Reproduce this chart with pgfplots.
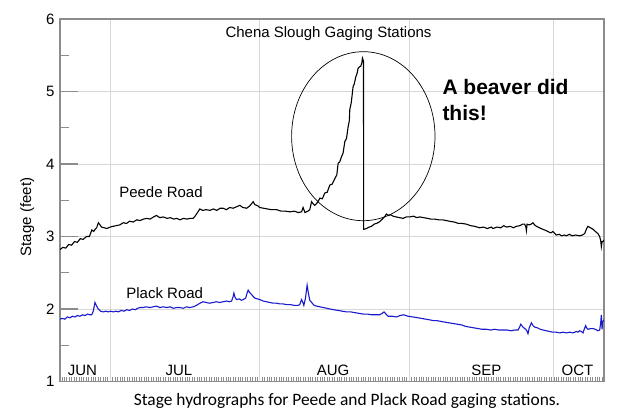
\documentclass[border=0pt]{standalone}
\usepackage{pgfplots}
\pgfplotsset{compat=1.18}
\usepackage{fontspec}
\setmainfont{Liberation Sans}
\newfontfamily\calibri{Carlito}
\definecolor{plackblue}{RGB}{25,25,205}
\definecolor{gridgray}{RGB}{215,215,215}
\definecolor{framegray}{RGB}{140,140,140}

\pgfplotstableread{
d v
19.6 2.82
20.2 2.85
20.8 2.84
21.4 2.89
22.0 2.88
22.6 2.93
23.2 2.92
23.8 2.97
24.4 2.96
25.1 3.00
25.7 3.00
26.2 3.09
26.6 3.07
26.9 3.10
27.2 3.12
27.55 3.19
27.9 3.16
28.2 3.13
28.8 3.12
29.3 3.11
30.0 3.13
30.6 3.14
31.3 3.15
32.0 3.16
32.7 3.19
33.4 3.18
34.0 3.21
34.8 3.20
35.5 3.23
36.2 3.22
36.9 3.24
37.6 3.25
38.3 3.24
39.0 3.27
39.6 3.29
40.3 3.26
41.0 3.27
41.8 3.25
42.5 3.26
43.2 3.24
43.8 3.25
44.5 3.23
45.2 3.25
45.9 3.24
46.6 3.25
47.2 3.25
47.6 3.28
48.0 3.32
48.6 3.38
49.2 3.36
49.9 3.37
50.7 3.36
51.4 3.38
52.1 3.36
52.8 3.39
53.4 3.39
54.1 3.37
54.8 3.40
55.5 3.39
56.2 3.41
56.9 3.43
57.5 3.40
58.3 3.39
58.9 3.42
59.3 3.45
59.65 3.48
60.0 3.44
60.7 3.42
61.0 3.40
61.8 3.39
62.6 3.38
63.4 3.37
64.5 3.37
65.4 3.35
66.3 3.35
67.3 3.34
68.2 3.35
69.0 3.33
69.7 3.34
70.0 3.40
70.4 3.33
71.0 3.35
71.4 3.37
71.76 3.48
72.1 3.45
72.44 3.43
73.0 3.47
73.5 3.53
74.0 3.52
74.5 3.60
75.0 3.61
75.55 3.71
76.0 3.72
76.6 3.80
77.0 3.85
77.27 4.01
77.6 4.03
77.97 4.10
78.3 4.15
78.66 4.31
79.0 4.35
79.34 4.51
79.6 4.60
79.69 4.75
80.0 4.85
80.38 5.07
80.6 5.10
80.93 5.20
81.2 5.25
81.41 5.32
81.7 5.34
81.97 5.35
82.2 5.40
82.32 5.46
82.53 5.42
82.56 3.10
82.66 3.10
83.15 3.11
83.7 3.13
84.2 3.14
84.7 3.17
85.22 3.18
85.8 3.20
86.3 3.23
86.59 3.25
87.0 3.28
87.29 3.31
87.7 3.29
88.2 3.30
88.66 3.28
89.3 3.27
90.0 3.26
90.73 3.25
91.4 3.27
92.12 3.27
92.9 3.28
93.6 3.26
94.19 3.27
95.0 3.26
95.8 3.25
96.5 3.24
97.3 3.24
98.1 3.23
98.9 3.23
99.7 3.22
100.4 3.21
101.3 3.20
102.2 3.18
103.0 3.18
103.9 3.17
104.7 3.15
105.6 3.14
106.6 3.12
107.4 3.13
108.2 3.11
109.0 3.13
109.4 3.11
110.2 3.13
111.0 3.12
111.6 3.15
112.2 3.13
113.0 3.14
113.6 3.12
114.2 3.14
115.0 3.15
115.5 3.17
115.95 3.17
116.2 3.13
116.31 3.08
116.45 3.17
116.9 3.16
117.3 3.17
117.67 3.19
118.0 3.16
118.4 3.14
119.0 3.12
119.7 3.10
120.45 3.08
121.0 3.06
121.4 3.05
121.8 3.07
122.5 3.02
123.1 3.03
123.6 3.01
124.2 3.02
124.6 3.01
125.2 3.03
125.8 3.01
126.5 3.02
127.35 3.01
127.9 3.02
128.39 3.04
128.8 3.11
129.07 3.14
129.6 3.12
130.11 3.10
130.6 3.07
131.14 3.04
131.49 3.00
131.7 2.95
131.85 2.86
132.0 2.93
132.18 2.93
132.35 2.95
}\peede

\pgfplotstableread{
d v
19.6 1.86
20.1 1.87
20.6 1.86
21.1 1.89
21.67 1.88
22.2 1.90
22.7 1.89
23.2 1.91
23.74 1.90
24.3 1.92
24.8 1.91
25.3 1.93
25.82 1.92
26.17 1.92
26.5 1.97
26.85 2.09
27.2 2.04
27.54 2.00
28.0 1.97
28.57 1.96
29.1 1.97
29.6 1.96
30.1 1.97
30.64 1.96
31.2 1.97
31.7 1.96
32.3 1.98
32.9 1.97
33.42 1.99
34.0 1.98
34.6 2.00
35.2 1.99
35.7 2.01
36.18 2.02
36.8 2.02
37.5 2.03
38.2 2.02
38.93 2.03
39.6 2.04
40.3 2.02
41.0 2.03
41.71 2.02
42.4 2.03
43.1 2.01
43.8 2.02
44.46 2.02
45.2 2.01
45.8 2.03
46.5 2.02
47.22 2.03
47.9 2.05
48.61 2.08
49.29 2.10
49.9 2.09
50.6 2.08
51.37 2.09
52.0 2.10
52.7 2.09
53.44 2.10
54.1 2.11
54.7 2.10
55.18 2.11
55.5 2.17
55.66 2.22
55.9 2.16
56.21 2.13
56.8 2.14
57.2 2.12
57.58 2.13
58.1 2.15
58.4 2.22
58.62 2.26
58.9 2.23
59.32 2.20
59.7 2.17
60.01 2.15
60.5 2.14
61.0 2.13
61.73 2.11
62.4 2.10
63.1 2.09
63.80 2.08
64.5 2.08
65.2 2.07
65.87 2.07
66.6 2.06
67.4 2.06
68.2 2.05
68.98 2.05
69.3 2.06
69.68 2.13
69.9 2.10
70.16 2.05
70.5 2.15
70.84 2.33
71.1 2.22
71.40 2.12
71.9 2.08
72.3 2.05
72.79 2.04
73.5 2.03
74.2 2.02
74.9 2.01
75.55 2.00
76.4 1.99
77.3 1.98
78.1 1.97
79.01 1.96
79.9 1.96
80.7 1.95
81.6 1.94
82.45 1.93
83.3 1.93
84.2 1.92
85.0 1.92
85.91 1.92
86.4 1.94
86.80 1.96
87.2 1.93
87.63 1.90
88.5 1.90
89.37 1.89
90.1 1.91
90.88 1.92
91.8 1.90
92.81 1.89
93.7 1.88
94.6 1.87
95.4 1.86
96.27 1.85
97.0 1.84
97.66 1.84
98.5 1.83
99.3 1.82
100.2 1.81
101.10 1.80
102.0 1.79
102.9 1.78
103.7 1.76
104.56 1.75
105.4 1.74
106.3 1.73
107.1 1.72
108.02 1.72
108.9 1.71
109.7 1.72
110.6 1.71
111.46 1.71
112.3 1.71
113.1 1.70
113.9 1.71
114.57 1.71
114.9 1.75
115.13 1.79
115.6 1.75
116.16 1.72
116.4 1.70
116.64 1.66
116.9 1.74
117.34 1.81
117.7 1.77
118.03 1.75
118.6 1.74
119.2 1.72
119.8 1.71
120.45 1.70
121.1 1.69
121.8 1.68
122.5 1.68
123.21 1.67
123.9 1.68
124.6 1.67
125.3 1.68
125.96 1.67
126.67 1.69
127.0 1.68
127.35 1.70
127.7 1.69
128.04 1.67
128.3 1.72
128.59 1.77
128.8 1.74
129.07 1.72
129.6 1.73
130.11 1.73
130.6 1.72
131.14 1.70
131.5 1.71
131.7 1.80
131.85 1.92
132.0 1.72
132.1 1.82
132.35 1.85
}\plack

\begin{document}
\begin{tikzpicture}[x=1pt,y=1pt]
\path[use as bounding box] (0,0) rectangle (632,415);
% half-day ticks along the bottom
\begin{axis}[
  at={(60pt,33.5pt)}, anchor=south west,
  width=544pt, height=362.5pt, scale only axis,
  xmin=19.6, xmax=132.4, ymin=1, ymax=6,
  axis line style={draw=none},
  xtick={20,20.5,...,132}, xticklabels={},
  ytick={1}, yticklabels={}, ytick style={draw=none},
  major tick length=4pt,
  tick align=inside, xtick pos=bottom,
  xtick style={framegray, line width=0.6pt},
]
\end{axis}
\begin{axis}[
  at={(60pt,33.5pt)}, anchor=south west,
  width=544pt, height=362.5pt, scale only axis,
  xmin=19.6, xmax=132.4, ymin=1, ymax=6,
  axis line style={framegray, line width=1.2pt},
  xtick={30,61,92,122}, xticklabels={},
  xtick style={draw=none},
  ytick={1,2,3,4,5,6},
  minor ytick={1.5,2.5,3.5,4.5,5.5},
  major tick length=18pt, minor tick length=9pt,
  tick align=inside, ytick pos=left,
  ytick style={framegray, line width=1.2pt},
  minor y tick style={framegray, line width=1.2pt},
  xmajorgrids, ymajorgrids,
  major grid style={gridgray, line width=0.9pt},
  /pgf/number format/assume math mode=true,
  yticklabel style={font=\fontsize{15}{18}\selectfont, xshift=-2pt},
  clip=true,
]
\addplot[black, line width=1.1pt] table[x=d, y=v] {\peede};
\addplot[plackblue, line width=1.1pt] table[x=d, y=v] {\plack};
\end{axis}
% annotations (picture coordinates: 1pt = 1px, y measured from bottom)
\draw[black, line width=0.7pt] (363.3,278.8) ellipse [x radius=71.7, y radius=84.5];
\begin{scope}[every node/.style={inner sep=0pt, font=\fontsize{15}{18}\selectfont}]
\node[anchor=base] at (328.5,377.3) {Chena Slough Gaging Stations};
\node[anchor=base] at (161,217) {Peede Road};
\node[anchor=base] at (164.7,116) {Plack Road};
\node[anchor=base] at (82.5,39) {JUN};
\node[anchor=base] at (179,39) {JUL};
\node[anchor=base] at (333,39) {AUG};
\node[anchor=base] at (486.3,39) {SEP};
\node[anchor=base] at (577.5,39) {OCT};
\node[anchor=base, rotate=90] at (31,198) {Stage (feet)};
\node[anchor=base west, font=\fontsize{21}{25}\selectfont\bfseries] at (442.3,320) {A beaver did};
\node[anchor=base west, font=\fontsize{21}{25}\selectfont\bfseries] at (442.3,294.3) {this!};
\node[anchor=base, font=\fontsize{17.4}{20}\selectfont\calibri] at (347,9.5) {Stage hydrographs for Peede and Plack Road gaging stations.};
\end{scope}
\end{tikzpicture}
\end{document}
